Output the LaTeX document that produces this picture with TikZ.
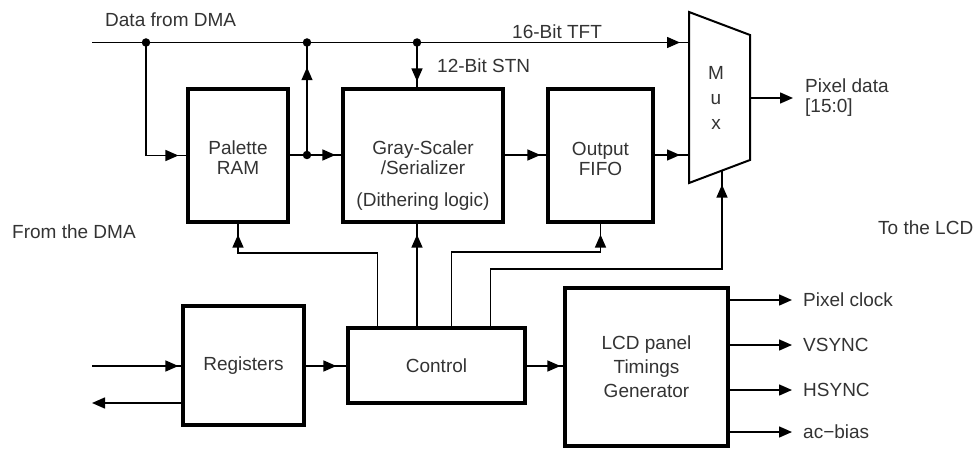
\documentclass[tikz,border=0pt]{standalone}
\usepackage{fontspec}
\setmainfont{Liberation Sans}
\usetikzlibrary{arrows.meta,decorations.markings,calc}
\begin{document}
\begin{tikzpicture}[x=1pt,y=-1pt,
  blk/.style={draw,line width=3.2pt,inner sep=0pt,font=\fontsize{19}{20}\selectfont,text=black!80},
  wire/.style={line width=1.5pt},
  txt/.style={inner sep=0pt,font=\fontsize{19}{20}\selectfont,text=black!80},
  tipat/.style={postaction={decorate,decoration={markings,mark=at position #1 with {\arrow{Triangle[length=13pt,width=11pt]}}}}},
  endarr/.style={-{Triangle[length=13pt,width=11pt]}},
  dot/.style={circle,fill=black,inner sep=0pt,minimum size=8.5pt}]
\useasboundingbox (0,0) rectangle (979,449);

% blocks
\node[blk,minimum width=100pt,minimum height=133pt] (pal) at (238,155.5) {};
\node[txt,align=center] (paltxt) at (238,158) {Palette\\RAM};
\node[blk,minimum width=160pt,minimum height=133pt] (gray) at (423,155.5) {};
\node[txt,align=center] (graytxt) at (423,158) {Gray-Scaler\\/Serializer};
\node[txt] (dith) at (423,202) {(Dithering logic)};
\node[blk,minimum width=105pt,minimum height=133pt] (fifo) at (600.5,155.5) {};
\node[txt,align=center] (fifotxt) at (600.5,159) {Output\\FIFO};
\node[blk,minimum width=121pt,minimum height=119pt] (reg) at (243.5,365.5) {Registers};
\node[blk,minimum width=177pt,minimum height=75pt] (ctrl) at (436.5,365.5) {Control};
\node[blk,minimum width=163pt,minimum height=158pt,font=\fontsize{19}{24}\selectfont,align=center] (lcd) at (646.5,367) {LCD panel\\Timings\\Generator};

% mux
\draw[line width=2pt] (689,12) -- (750,35) -- (750,160) -- (689,183) -- cycle;
\node[txt,font=\fontsize{19}{25}\selectfont,align=center] (muxtxt) at (716,98) {M\\u\\x};
\coordinate (muxA) at (689,42.5);
\coordinate (muxB) at (689,155);
\coordinate (muxO) at (750,98);
\coordinate (muxbot) at (722,170.6);

% labels
\node[txt,anchor=west] (dfd) at (105,20) {Data from DMA};
\node[txt,anchor=west] (tft) at (512,32) {16-Bit TFT};
\node[txt,anchor=west] (stn) at (437,66) {12-Bit STN};
\node[txt,anchor=west,align=left] (pix) at (805,98) {Pixel data\\{[15:0]}};
\node[txt,anchor=west] (fromdma) at (12,232) {From the DMA};
\node[txt,anchor=west] (tolcd) at (878,228) {To the LCD};
\node[txt,anchor=west] (pclk) at (803,300) {Pixel clock};
\node[txt,anchor=west] (vs) at (803,345) {VSYNC};
\node[txt,anchor=west] (hs) at (803,390) {HSYNC};
\node[txt,anchor=west] (acb) at (803,432) {ac−bias};

% bus coordinates
\coordinate (din) at (92,42.5);
\coordinate (d1) at (146,42.5);
\coordinate (d2) at (307,42.5);
\coordinate (d3) at (417,42.5);
\coordinate (d4) at (307,155);
\coordinate (rin) at (92,366);
\coordinate (rout) at (92,403);

% top bus
\draw[wire,tipat=-9pt] (din) -- (muxA);
\draw[wire,tipat=-8pt] (d1) |- (pal.west);
\draw[wire,tipat=-6pt] (pal.east |- d4) -- (gray.west |- d4);
\draw[wire,tipat=0.78] (d4) -- (d2);
\draw[wire,tipat=-6pt] (d3) -- (d3 |- gray.north);
\draw[wire,tipat=-6pt] (gray.east |- d4) -- (fifo.west |- d4);
\draw[wire,tipat=-9pt] (fifo.east |- muxB) -- (muxB);
\draw[wire,endarr] (muxO) -- (793,98);
\foreach \d in {d1,d2,d3,d4} \node[dot] at (\d) {};

% control taps
\draw[wire,tipat=-11pt] ($(ctrl.north west)+(31,0)$) |- (238,253) -- (pal.south);
\draw[wire,tipat=-11pt] (ctrl.north -| d3) -- (gray.south -| d3);
\draw[wire,tipat=-11pt] ($(ctrl.north west)+(105,0)$) |- (600.5,252) -- (fifo.south);
\draw[wire,tipat=-14pt] ($(ctrl.north west)+(144,0)$) |- (722,269) -- (muxbot);

% bottom row
\draw[wire,tipat=-3pt] (rin) -- (reg.west |- rin);
\draw[wire,endarr] (reg.west |- rout) -- (rout);
\draw[wire,tipat=-10pt] (reg.east |- rin) -- (ctrl.west |- rin);
\draw[wire,tipat=-3pt] (ctrl.east |- rin) -- (lcd.west |- rin);
\draw[wire,endarr,shorten >=11pt] (lcd.east |- pclk) -- (pclk.west);
\draw[wire,endarr,shorten >=11pt] (lcd.east |- vs) -- (vs.west);
\draw[wire,endarr,shorten >=11pt] (lcd.east |- hs) -- (hs.west);
\draw[wire,endarr,shorten >=11pt] (lcd.east |- acb) -- (acb.west);
\end{tikzpicture}
\end{document}
